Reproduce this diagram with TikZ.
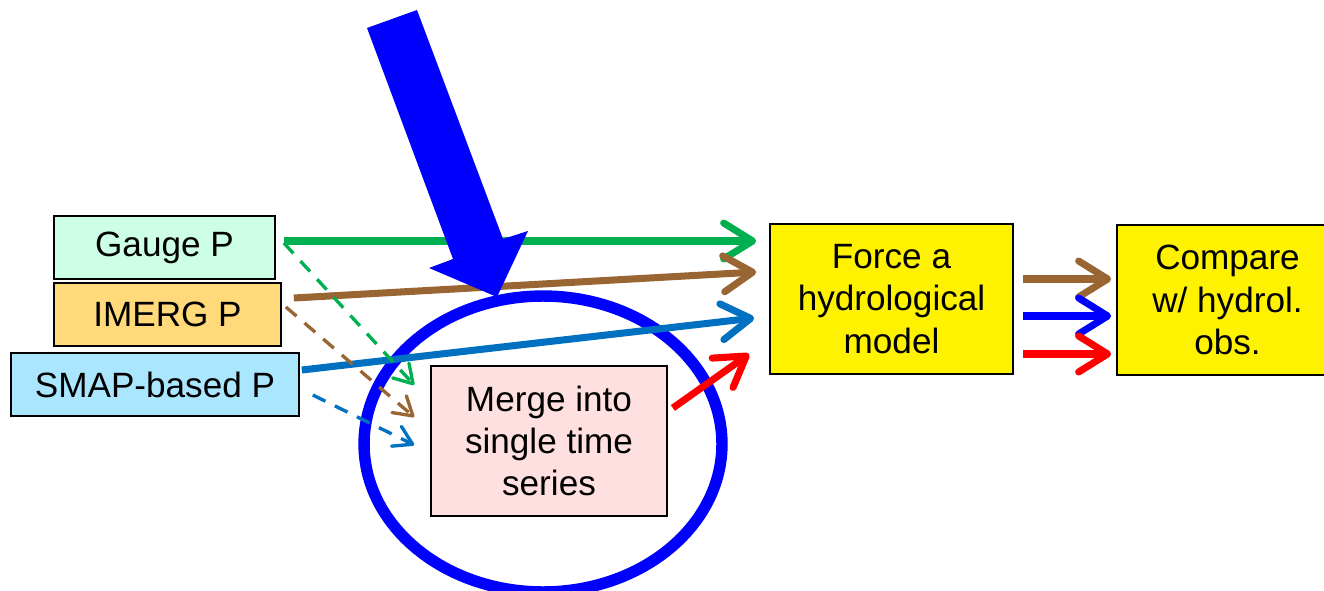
\documentclass[tikz,border=0pt]{standalone}
\usepackage{fontspec}
\setmainfont{Liberation Sans}
\usepackage{tikz}
\usetikzlibrary{arrows.meta}
\definecolor{gaugeg}{RGB}{0, 176, 80}
\definecolor{imergb}{RGB}{153, 102, 51}
\definecolor{smapb}{RGB}{0, 112, 192}
\definecolor{gaugefill}{RGB}{204, 255, 229}
\definecolor{imergfill}{RGB}{255, 217, 122}
\definecolor{smapfill}{RGB}{171, 230, 255}
\definecolor{mergefill}{RGB}{255, 224, 224}

\begin{document}
\begin{tikzpicture}[x=0.02cm, y=-0.02cm,
	box/.style={draw, line width=1pt, align=center, inner sep=0pt, font=\fontsize{20}{24}\selectfont},
	arr/.style={line width=4pt, -{Straight Barb[length=0.58cm, width=0.72cm, round]}},
	darr/.style={line width=1.9pt, dash pattern=on 8pt off 6pt, -{Straight Barb[length=0.36cm, width=0.44cm, round]}}]
	\useasboundingbox (0,0) rectangle (1324,591);
	\clip (0,0) rectangle (1324,591);
	\draw[blue, line width=6.5pt] (543,444) ellipse [x radius=3.58cm, y radius=2.96cm];
	\node[box, fill=gaugefill, minimum width=4.42cm, minimum height=1.26cm] (gauge) at (164.5,247.5) {Gauge P};
	\node[box, fill=imergfill, minimum width=4.54cm, minimum height=1.26cm] (imerg) at (167.5,314.5) {IMERG P};
	\node[box, fill=smapfill, minimum width=5.76cm, minimum height=1.26cm] (smap) at (155,384.5) {SMAP-based P};
	\node[box, fill=mergefill, minimum width=4.72cm, minimum height=3cm] (merge) at (549,441) {Merge into\\single time\\series};
	\node[box, fill=yellow, minimum width=4.86cm, minimum height=3cm] (force) at (891.5,299) {Force a\\hydrological\\model};
	\node[box, fill=yellow, minimum width=4.42cm, minimum height=3cm] (compare) at (1227.5,300) {Compare\\w/ hydrol.\\obs.};
	\draw[arr, gaugeg] ([shift={(8,-6.5)}]gauge.east) -- ([shift={(-13,-58)}]force.west);
	\draw[arr, imergb] ([shift={(12,-16.5)}]imerg.east) -- ([shift={(-13,-27)}]force.west);
	\draw[arr, smapb] ([shift={(2,-14.5)}]smap.east) -- ([shift={(-15,19)}]force.west);
	\draw[arr, red] ([shift={(5,-33)}]merge.east) -- ([shift={(-20,55)}]force.west);
	\draw[darr, gaugeg] ([shift={(8,-4.5)}]gauge.east) -- ([shift={(-16,-56)}]merge.west);
	\draw[darr, imergb] ([shift={(4,-7.5)}]imerg.east) -- ([shift={(-16,-24)}]merge.west);
	\draw[darr, smapb] ([shift={(13,10.5)}]smap.east) -- ([shift={(-16,4)}]merge.west);
	\draw[arr, imergb] ([shift={(9,-20)}]force.east) -- ([shift={(-5,-21)}]compare.west);
	\draw[arr, blue] ([shift={(9,17)}]force.east) -- ([shift={(-5,16)}]compare.west);
	\draw[arr, red] ([shift={(9,55)}]force.east) -- ([shift={(-5,54)}]compare.west);
	\fill[blue] (367,28) -- (417,10) -- (503,239) -- (528,231) -- (497,297) -- (429,268) -- (453,259) -- cycle;
\end{tikzpicture}
\end{document}
